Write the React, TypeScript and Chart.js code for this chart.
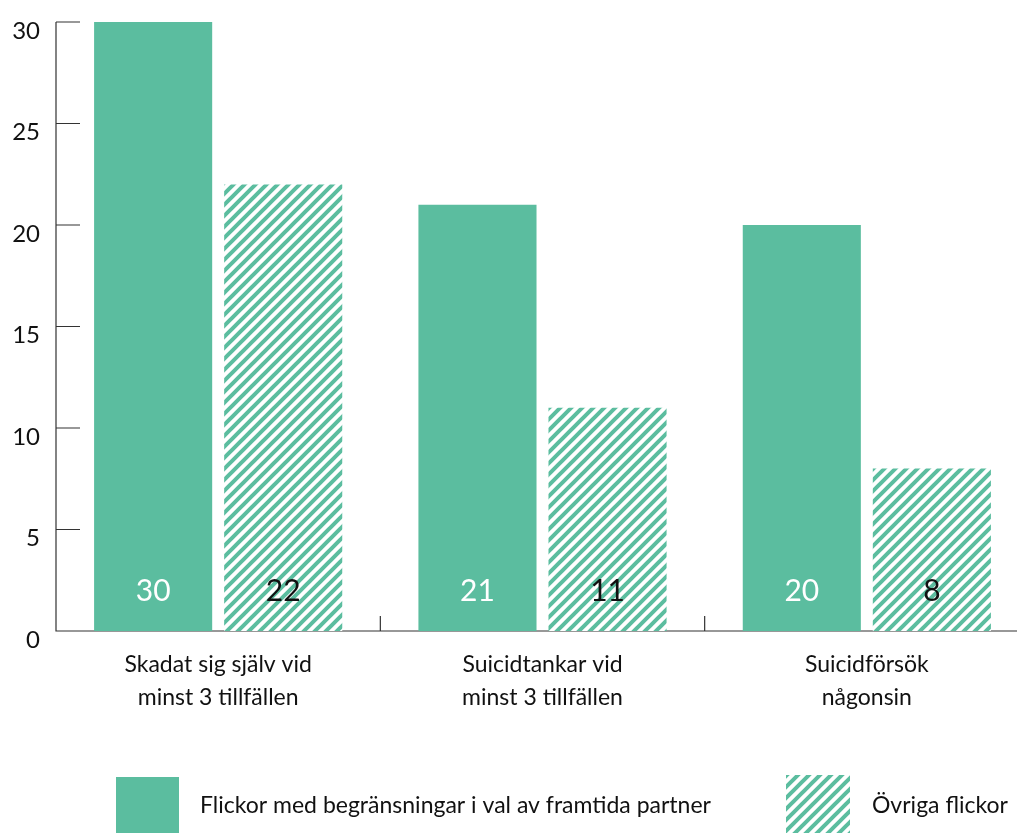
import React, { useEffect, useRef } from "react";
import { Chart, registerables } from "chart.js";
Chart.register(...registerables);

const categories = [
  ["Skadat sig själv vid", "minst 3 tillfällen"],
  ["Suicidtankar vid", "minst 3 tillfällen"],
  ["Suicidförsök", "någonsin"],
];
const seriesNames = [
  "Flickor med begränsningar i val av framtida partner",
  "Övriga flickor",
];
const restrictedValues = [30, 21, 20];
const otherValues = [22, 11, 8];
const yTickValues = [0, 5, 10, 15, 20, 25, 30];

const GREEN = "#5BBD9F";
const FONT = "Lato, 'Noto Sans', sans-serif";
const TEXT = "#111111";
const AXIS = "#333333";

function makeHatch(): CanvasPattern | string {
  const s = 11;
  const c = document.createElement("canvas");
  c.width = s;
  c.height = s;
  const g = c.getContext("2d");
  if (!g) return GREEN;
  g.fillStyle = "#ffffff";
  g.fillRect(0, 0, s, s);
  g.strokeStyle = GREEN;
  g.lineWidth = 4;
  g.lineCap = "square";
  g.beginPath();
  g.moveTo(-1, s + 1);
  g.lineTo(s + 1, -1);
  g.moveTo(-s / 2 - 1, s / 2 + 1);
  g.lineTo(s / 2 + 1, -s / 2 - 1);
  g.moveTo(s / 2 - 1, s * 1.5 + 1);
  g.lineTo(s * 1.5 + 1, s / 2 - 1);
  g.stroke();
  const ctx = document.createElement("canvas").getContext("2d");
  const p = ctx ? ctx.createPattern(c, "repeat") : null;
  return p || GREEN;
}

export default function App() {
  const ref = useRef<HTMLCanvasElement | null>(null);
  useEffect(() => {
    if (!ref.current) return;
    const hatch = makeHatch();

    const axesPlugin = {
      id: "customAxes",
      beforeDatasetsDraw(chart: any) {
        const { ctx, chartArea, scales } = chart;
        const ys = scales.y;
        const xs = scales.x;
        ctx.save();
        ctx.strokeStyle = AXIS;
        ctx.lineWidth = 1.2;
        ctx.beginPath();
        ctx.moveTo(chartArea.left, ys.getPixelForValue(30));
        ctx.lineTo(chartArea.left, chartArea.bottom);
        ctx.lineTo(chartArea.right, chartArea.bottom);
        yTickValues.forEach((v) => {
          const py = ys.getPixelForValue(v);
          ctx.moveTo(chartArea.left, py);
          ctx.lineTo(chartArea.left + 24, py);
        });
        for (let i = 0; i < categories.length - 1; i++) {
          const bx = (xs.getPixelForValue(i) + xs.getPixelForValue(i + 1)) / 2;
          ctx.moveTo(bx, chartArea.bottom);
          ctx.lineTo(bx, chartArea.bottom - 15);
        }
        ctx.stroke();
        ctx.restore();
      },
      afterDatasetsDraw(chart: any) {
        const { ctx, scales } = chart;
        const base = scales.y.getPixelForValue(0);
        ctx.save();
        ctx.font = `30px ${FONT}`;
        ctx.textAlign = "center";
        ctx.textBaseline = "middle";
        chart.data.datasets.forEach((ds: any, di: number) => {
          const meta = chart.getDatasetMeta(di);
          meta.data.forEach((el: any, i: number) => {
            ctx.fillStyle = di === 0 ? "#ffffff" : TEXT;
            ctx.fillText(String(ds.data[i]), el.x, base - 40);
          });
        });
        ctx.restore();
      },
      afterDraw(chart: any) {
        const { ctx, chartArea } = chart;
        const top = chartArea.bottom + 146;
        ctx.save();
        ctx.fillStyle = GREEN;
        ctx.fillRect(116, top, 63, 70);
        ctx.fillStyle = hatch;
        ctx.fillRect(786, top - 2, 64, 72);
        ctx.fillStyle = TEXT;
        ctx.font = `23px ${FONT}`;
        ctx.textBaseline = "middle";
        ctx.textAlign = "left";
        ctx.fillText(seriesNames[0], 200, top + 29);
        ctx.fillText(seriesNames[1], 872, top + 29);
        ctx.restore();
      },
    };

    const chart = new Chart(ref.current, {
      type: "bar",
      data: {
        labels: categories,
        datasets: [
          {
            label: seriesNames[0],
            data: restrictedValues,
            backgroundColor: GREEN,
            borderWidth: 0,
          },
          {
            label: seriesNames[1],
            data: otherValues,
            backgroundColor: hatch as any,
            borderWidth: 0,
          },
        ],
      },
      options: {
        animation: false,
        responsive: false,
        devicePixelRatio: 1,
        datasets: {
          bar: { categoryPercentage: 0.802, barPercentage: 0.908 },
        },
        layout: { padding: { top: 22, right: 11, left: 0, bottom: 0 } },
        plugins: {
          legend: { display: false },
          tooltip: { enabled: false },
        },
        scales: {
          x: {
            grid: { display: false, drawTicks: false },
            border: { display: false },
            ticks: {
              color: TEXT,
              font: { family: FONT, size: 23, lineHeight: 1.43 },
              padding: 17,
              maxRotation: 0,
              autoSkip: false,
            },
            afterFit(scale: any) {
              scale.height = 202;
              scale.paddingLeft = 0;
              scale.paddingRight = 0;
            },
          },
          y: {
            min: 0,
            max: 30,
            grid: { display: false, drawTicks: false },
            border: { display: false },
            ticks: {
              stepSize: 5,
              color: TEXT,
              font: { family: FONT, size: 24 },
              padding: 16,
              labelOffset: 9,
            },
            afterFit(scale: any) {
              scale.width = 56;
              scale.paddingTop = 0;
              scale.paddingBottom = 0;
            },
          },
        },
      },
      plugins: [axesPlugin],
    });
    return () => chart.destroy();
  }, []);

  return (
    <div
      style={{
        position: "fixed",
        left: 0,
        top: 0,
        width: 1017,
        height: 833,
        overflow: "hidden",
        background: "#ffffff",
      }}
    >
      <canvas
        ref={ref}
        width={1040}
        height={833}
        style={{ width: 1040, height: 833, display: "block" }}
      />
    </div>
  );
}
